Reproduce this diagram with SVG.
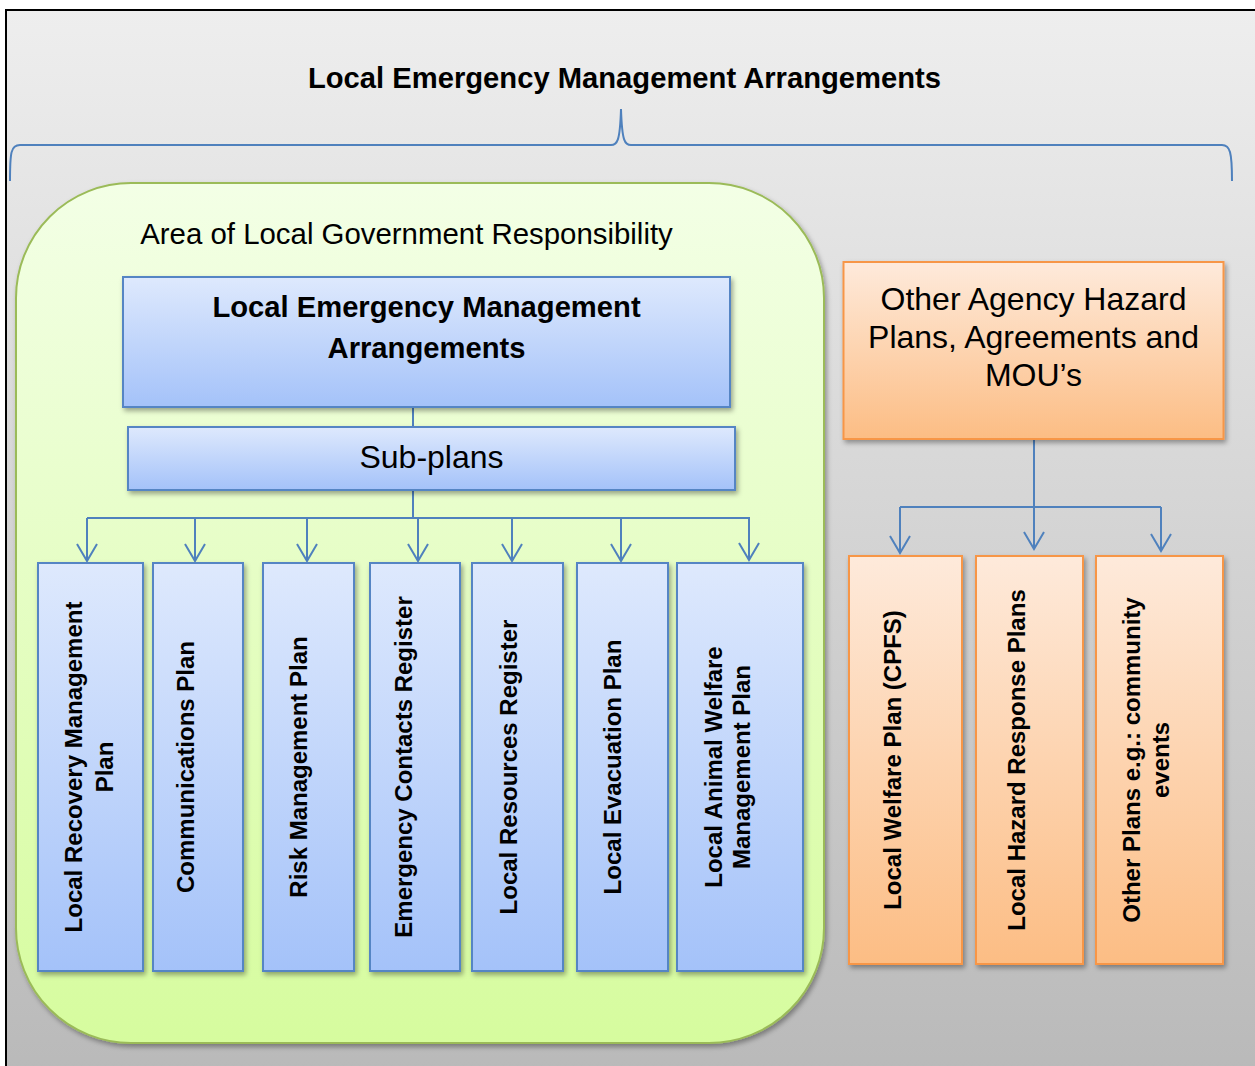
<svg xmlns="http://www.w3.org/2000/svg" width="1255" height="1066" viewBox="0 0 1255 1066">
<defs>
<linearGradient id="bg" x1="0" y1="0" x2="0" y2="1"><stop offset="0" stop-color="#eeeeee"/><stop offset="1" stop-color="#b9b9b9"/></linearGradient>
<linearGradient id="green" x1="0" y1="0" x2="0" y2="1"><stop offset="0" stop-color="#f3ffe6"/><stop offset="1" stop-color="#d6fc9e"/></linearGradient>
<linearGradient id="blue" x1="0" y1="0" x2="0" y2="1"><stop offset="0" stop-color="#dee9fd"/><stop offset="1" stop-color="#a4c2f9"/></linearGradient>
<linearGradient id="orange" x1="0" y1="0" x2="0" y2="1"><stop offset="0" stop-color="#feeadb"/><stop offset="1" stop-color="#fcbd84"/></linearGradient>
<filter id="sh" x="-10%" y="-10%" width="130%" height="130%"><feDropShadow dx="2" dy="3" stdDeviation="2.5" flood-color="#000" flood-opacity="0.35"/></filter>
<marker id="arr" viewBox="-19 -12 21 24" refX="0" refY="0" markerWidth="21" markerHeight="24" markerUnits="userSpaceOnUse" orient="auto"><path d="M-17,-10 L0,0 L-17,10" fill="none" stroke="#4f81bd" stroke-width="2"/></marker>
</defs>
<style>
.t{font-family:"Liberation Sans",Arial,sans-serif;fill:#000}
.b{font-weight:bold}
.v{font-family:"Liberation Sans",Arial,sans-serif;font-weight:bold;font-size:24px;fill:#000;text-anchor:middle}
.bl{fill:url(#blue);stroke:#5585c4;stroke-width:2;filter:url(#sh)}
.or{fill:url(#orange);stroke:#f79646;stroke-width:2;filter:url(#sh)}
.cn{fill:none;stroke:#4f81bd;stroke-width:2}
</style>
<rect x="6" y="10" width="1262" height="1070" fill="url(#bg)" stroke="#000" stroke-width="2"/>
<text class="t b" x="624.5" y="88" font-size="29.2" text-anchor="middle">Local Emergency Management Arrangements</text>
<path d="M10,181 C10,152 11,145 20,145 L611,145 C617,145 620,142 621,109 C622,142 625,145 631,145 L1222,145 C1230,145 1232,152 1232,181" fill="none" stroke="#4f81bd" stroke-width="2"/>
<g id="lg-area">
<rect x="16" y="183" width="808" height="860" rx="115" ry="115" fill="url(#green)" stroke="#9bbb59" stroke-width="2" filter="url(#sh)"/>
<text class="t" x="406.5" y="244" font-size="29.4" text-anchor="middle">Area of Local Government Responsibility</text>
</g>
<g id="connectors">
<line class="cn" x1="413" y1="407" x2="413" y2="427"/>
<path class="cn" d="M413,490 V518 M87,518 H750"/>
<line class="cn" x1="87" y1="518" x2="87" y2="561" marker-end="url(#arr)"/>
<line class="cn" x1="195" y1="518" x2="195" y2="561" marker-end="url(#arr)"/>
<line class="cn" x1="307" y1="518" x2="307" y2="561" marker-end="url(#arr)"/>
<line class="cn" x1="418" y1="518" x2="418" y2="561" marker-end="url(#arr)"/>
<line class="cn" x1="512" y1="518" x2="512" y2="561" marker-end="url(#arr)"/>
<line class="cn" x1="621" y1="518" x2="621" y2="561" marker-end="url(#arr)"/>
<line class="cn" x1="749" y1="518" x2="749" y2="560" marker-end="url(#arr)"/>
<line class="cn" x1="1034" y1="439" x2="1034" y2="549" marker-end="url(#arr)"/>
<path class="cn" d="M900,507 H1161"/>
<line class="cn" x1="900" y1="507" x2="900" y2="553" marker-end="url(#arr)"/>
<line class="cn" x1="1161" y1="507" x2="1161" y2="551" marker-end="url(#arr)"/>
</g>
<g id="lema">
<rect class="bl" x="123" y="277" width="607" height="130"/>
<text class="t b" x="426.5" y="317" font-size="29.2" text-anchor="middle">Local Emergency Management</text>
<text class="t b" x="426.5" y="358" font-size="29.2" text-anchor="middle">Arrangements</text>
</g>
<g id="subplans">
<rect class="bl" x="128" y="427" width="607" height="63"/>
<text class="t" x="431.5" y="468" font-size="32" text-anchor="middle">Sub-plans</text>
</g>
<g id="recovery">
<rect class="bl" x="38" y="563" width="105" height="408"/>
<text class="v" transform="translate(82,767) rotate(-90)">Local Recovery Management</text>
<text class="v" transform="translate(113,767) rotate(-90)">Plan</text>
</g>
<g id="comms">
<rect class="bl" x="153" y="563" width="90" height="408"/>
<text class="v" transform="translate(194,767) rotate(-90)">Communications Plan</text>
</g>
<g id="risk">
<rect class="bl" x="263" y="563" width="91" height="408"/>
<text class="v" transform="translate(306.5,767) rotate(-90)">Risk Management Plan</text>
</g>
<g id="contacts">
<rect class="bl" x="370" y="563" width="90" height="408"/>
<text class="v" transform="translate(411.5,767) rotate(-90)">Emergency Contacts Register</text>
</g>
<g id="resources">
<rect class="bl" x="472" y="563" width="91" height="408"/>
<text class="v" transform="translate(516.5,767) rotate(-90)">Local Resources Register</text>
</g>
<g id="evacuation">
<rect class="bl" x="577" y="563" width="91" height="408"/>
<text class="v" transform="translate(621,767) rotate(-90)">Local Evacuation Plan</text>
</g>
<g id="animal">
<rect class="bl" x="677" y="563" width="126" height="408"/>
<text class="v" transform="translate(721.5,767) rotate(-90)">Local Animal Welfare</text>
<text class="v" transform="translate(750,767) rotate(-90)">Management Plan</text>
</g>
<g id="other-agency">
<rect class="or" x="843.5" y="262" width="380" height="177"/>
<text class="t" x="1033.5" y="310" font-size="32" text-anchor="middle">Other Agency Hazard</text>
<text class="t" x="1033.5" y="348" font-size="32" text-anchor="middle">Plans, Agreements and</text>
<text class="t" x="1033.5" y="386" font-size="32" text-anchor="middle">MOU’s</text>
</g>
<g id="welfare">
<rect class="or" x="849" y="556" width="113" height="408"/>
<text class="v" transform="translate(901,760) rotate(-90)">Local Welfare Plan (CPFS)</text>
</g>
<g id="hazard">
<rect class="or" x="976" y="556" width="107" height="408"/>
<text class="v" transform="translate(1025,760) rotate(-90)">Local Hazard Response Plans</text>
</g>
<g id="otherplans">
<rect class="or" x="1096" y="556" width="127" height="408"/>
<text class="v" transform="translate(1140,760) rotate(-90)">Other Plans e.g.: community</text>
<text class="v" transform="translate(1169,760) rotate(-90)">events</text>
</g>
</svg>
